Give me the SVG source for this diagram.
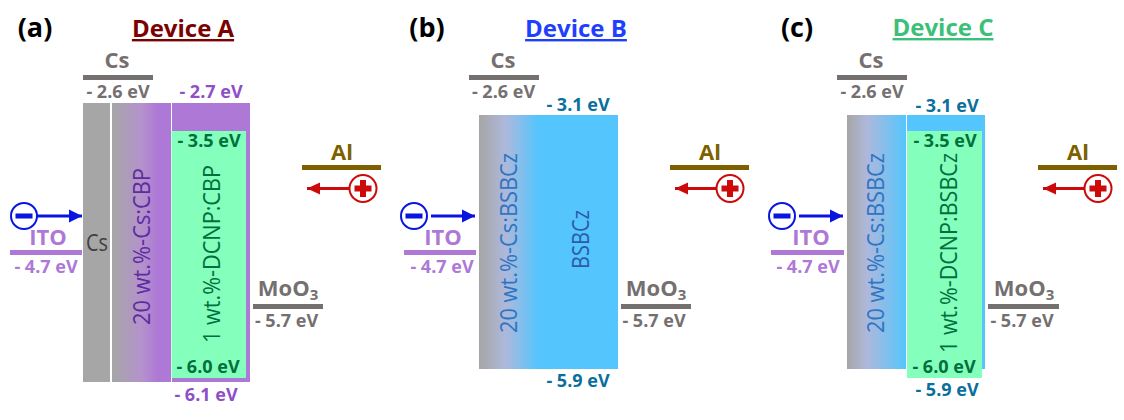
<svg xmlns="http://www.w3.org/2000/svg" width="1124" height="420" viewBox="0 0 1124 420">
<style>
text{font-family:"Open Sans","Noto Sans","DejaVu Sans",sans-serif;font-weight:700;text-anchor:middle}
.ev{font-size:18px}
.lab{font-size:22px}
.dev{font-size:24px;text-decoration:underline}
.pl{font-size:27px;fill:#000}
.v{font-size:24px;font-weight:400;text-anchor:start}
.gy{fill:#757070}.pu{fill:#8f4fc7}.lp{fill:#ae78d6}.gn{fill:#00703c}.bl{fill:#0b6f9c}.br{fill:#7f6000}
</style>
<defs>
<linearGradient id="gP"><stop offset="0" stop-color="#a6a6a6"/><stop offset=".5" stop-color="#b492cc"/><stop offset=".78" stop-color="#ae78d6"/></linearGradient>
<linearGradient id="gB"><stop offset="0" stop-color="#a6a6a6"/><stop offset=".34" stop-color="#aeb8dc"/><stop offset="1" stop-color="#55c5fd"/></linearGradient>
<linearGradient id="gB2" gradientUnits="userSpaceOnUse" x1="479" x2="538" y1="0" y2="0"><stop offset="0" stop-color="#a6a6a6"/><stop offset=".45" stop-color="#aeb8dc"/><stop offset="1" stop-color="#55c5fd"/></linearGradient>
<marker id="mB" markerUnits="userSpaceOnUse" markerWidth="13" markerHeight="14" refX="13" refY="7" orient="auto"><path d="M0 0.500L13 7L0 13.500Z" fill="#0a14e0"/></marker>
<marker id="mR" markerUnits="userSpaceOnUse" markerWidth="13" markerHeight="14" refX="13" refY="7" orient="auto"><path d="M0 1L13 7L0 13Z" fill="#cc0a0a"/></marker>
<g id="minus"><circle r="13" fill="#fff" stroke="#0a14e0" stroke-width="2"/><rect x="-8.500" y="-2.500" width="17" height="5" fill="#0a14e0"/></g>
<g id="plus"><circle r="13.500" fill="#fff" stroke="#cc0a0a" stroke-width="2"/><path d="M-3-8.500h6v5.500h5.500v6h-5.500v5.500h-6v-5.500h-5.500v-6h5.500z" fill="#cc0a0a"/></g>
</defs>

<g id="device-a">
<text class="pl" x="35" y="37">(a)</text>
<text class="dev" x="183" y="37" fill="#7b0000">Device A</text>
<rect x="83" y="103" width="27" height="279" fill="#a6a6a6"/>
<rect x="112" y="103" width="59" height="279" fill="url(#gP)"/>
<rect x="172" y="103" width="78" height="279" fill="#ae78d6"/>
<rect x="171.500" y="131" width="74.500" height="247" fill="#85ffbc"/>
<rect x="83" y="75" width="70" height="5" fill="#757070"/>
<text class="lab gy" x="117" y="68">Cs</text>
<text class="ev gy" x="118" y="97.500">- 2.6 eV</text>
<text class="ev pu" x="211" y="97.500">- 2.7 eV</text>
<text class="ev gn" x="209" y="147">- 3.5 eV</text>
<text class="ev gn" x="208" y="372.500">- 6.0 eV</text>
<text class="ev pu" x="206" y="401">- 6.1 eV</text>
<text x="97" y="251" fill="#404040" style="font-size:23px;font-weight:400" textLength="22" lengthAdjust="spacingAndGlyphs">Cs</text>
<text class="v" transform="translate(150 325) rotate(-90)" fill="#5c2d9e" textLength="157" lengthAdjust="spacingAndGlyphs">20 wt.%-Cs:CBP</text>
<text class="v" transform="translate(220 343) rotate(-90)" fill="#00703c" textLength="178" lengthAdjust="spacingAndGlyphs">1 wt.%-DCNP:CBP</text>
<rect x="10" y="250" width="72" height="5" fill="#ae78d6"/>
<text class="lab lp" x="48" y="245">ITO</text>
<text class="ev lp" x="46" y="272.700">- 4.7 eV</text>
<rect x="253" y="304" width="70" height="5" fill="#757070"/>
<text class="lab gy" x="288" y="296">MoO<tspan dy="4" font-size="15">3</tspan></text>
<text class="ev gy" x="286.500" y="326.700">- 5.7 eV</text>
<rect x="302" y="165" width="79" height="5" fill="#7f6000"/>
<text class="lab br" x="342" y="160">Al</text>
</g>

<g id="device-b">
<text class="pl" x="427" y="37">(b)</text>
<text class="dev" x="576" y="37" fill="#1f3fff">Device B</text>
<rect x="479" y="115" width="139" height="254" fill="#55c5fd"/>
<rect x="479" y="115" width="60" height="254" fill="url(#gB2)"/>
<rect x="469" y="75" width="70" height="5" fill="#757070"/>
<text class="lab gy" x="503" y="68">Cs</text>
<text class="ev gy" x="503.500" y="97.500">- 2.6 eV</text>
<text class="ev bl" x="578" y="111">- 3.1 eV</text>
<text class="ev bl" x="578" y="386.700">- 5.9 eV</text>
<text class="v" transform="translate(517 333) rotate(-90)" fill="#2f75c0" textLength="180" lengthAdjust="spacingAndGlyphs">20 wt.%-Cs:BSBCz</text>
<text class="v" transform="translate(589 269) rotate(-90)" fill="#2a5cab" textLength="59" lengthAdjust="spacingAndGlyphs">BSBCz</text>
<rect x="404" y="250" width="72" height="5" fill="#ae78d6"/>
<text class="lab lp" x="443" y="245">ITO</text>
<text class="ev lp" x="442" y="272.700">- 4.7 eV</text>
<rect x="621" y="304" width="70" height="5" fill="#757070"/>
<text class="lab gy" x="656" y="296">MoO<tspan dy="4" font-size="15">3</tspan></text>
<text class="ev gy" x="654" y="326.700">- 5.7 eV</text>
<rect x="670" y="165" width="79" height="5" fill="#7f6000"/>
<text class="lab br" x="710" y="160">Al</text>
</g>

<g id="device-c">
<text class="pl" x="797" y="37">(c)</text>
<text class="dev" x="943" y="36" fill="#3cbf78">Device C</text>
<rect x="847" y="115" width="59" height="254" fill="url(#gB)"/>
<rect x="907" y="115" width="78" height="254" fill="#55c5fd"/>
<rect x="907" y="131" width="75" height="247" fill="#85ffbc"/>
<rect x="837" y="75" width="70" height="5" fill="#757070"/>
<text class="lab gy" x="871" y="68">Cs</text>
<text class="ev gy" x="872" y="97.500">- 2.6 eV</text>
<text class="ev bl" x="947" y="112">- 3.1 eV</text>
<text class="ev gn" x="945" y="147">- 3.5 eV</text>
<text class="ev gn" x="944" y="372.500">- 6.0 eV</text>
<text class="ev bl" x="947" y="396">- 5.9 eV</text>
<text class="v" transform="translate(884 333) rotate(-90)" fill="#2f75c0" textLength="180" lengthAdjust="spacingAndGlyphs">20 wt.%-Cs:BSBCz</text>
<text class="v" transform="translate(957 353) rotate(-90)" fill="#00703c" textLength="200" lengthAdjust="spacingAndGlyphs">1 wt.%-DCNP:BSBCz</text>
<rect x="771" y="250" width="73" height="5" fill="#ae78d6"/>
<text class="lab lp" x="811" y="245">ITO</text>
<text class="ev lp" x="808" y="272.700">- 4.7 eV</text>
<rect x="988" y="304" width="71" height="5" fill="#757070"/>
<text class="lab gy" x="1024" y="296">MoO<tspan dy="4" font-size="15">3</tspan></text>
<text class="ev gy" x="1022" y="326.700">- 5.7 eV</text>
<rect x="1038" y="165" width="79" height="5" fill="#7f6000"/>
<text class="lab br" x="1078" y="159.500">Al</text>
</g>

<g id="connectors" fill="none" stroke-width="3">
<path d="M37 216H82" stroke="#0a14e0" marker-end="url(#mB)"/>
<path d="M431 216H475" stroke="#0a14e0" marker-end="url(#mB)"/>
<path d="M799 216H843" stroke="#0a14e0" marker-end="url(#mB)"/>
<path d="M350 188.500H307" stroke="#cc0a0a" marker-end="url(#mR)"/>
<path d="M717 188.500H675" stroke="#cc0a0a" marker-end="url(#mR)"/>
<path d="M1085 188.500H1043" stroke="#cc0a0a" marker-end="url(#mR)"/>
</g>
<g id="carriers">
<use href="#minus" x="24" y="216"/>
<use href="#minus" x="414" y="216"/>
<use href="#minus" x="782" y="216"/>
<use href="#plus" x="363" y="188.500"/>
<use href="#plus" x="730" y="188.500"/>
<use href="#plus" x="1098" y="188.500"/>
</g>
</svg>
